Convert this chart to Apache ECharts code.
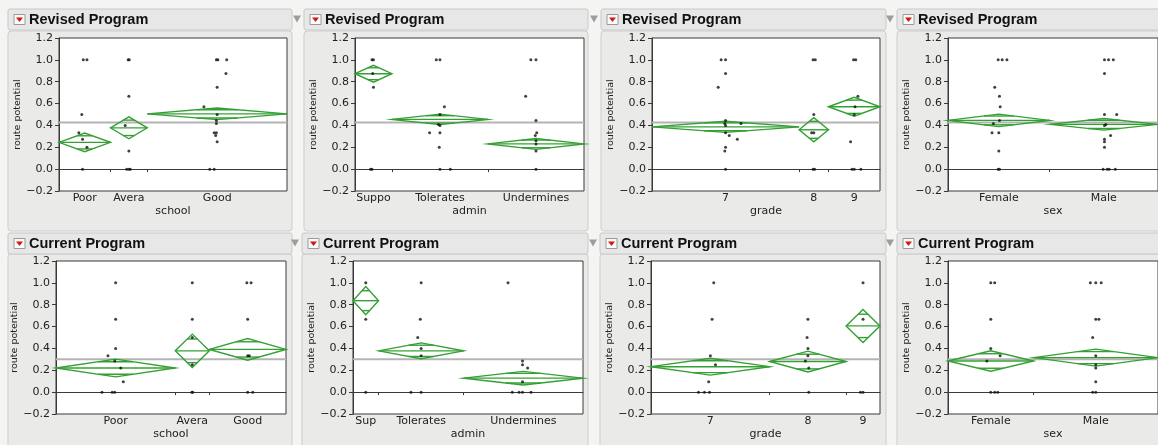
<!DOCTYPE html>
<html>
<head>
<meta charset="utf-8">
<title>route potential - Revised / Current Program</title>
<script src="https://cdn.jsdelivr.net/npm/echarts@6/dist/echarts.min.js"></script>
<style>
  html, body { margin: 0; padding: 0; background: #f4f4f3; }
  #chart { width: 1158px; height: 445px; }
</style>
</head>
<body>
<div id="chart"></div>
<script>
// ---- values ----
// grand means (gray line)
var revGrand = 0.426;
var curGrand = 0.302;

// Revised Program / school
var revSchoolNames = ['Poor', 'Avera', 'Good'];
var revSchoolN = [7, 5, 19];
var revSchoolMean = [0.245, 0.378, 0.506];
var revSchoolCI = [0.085, 0.1, 0.053];
var revSchoolPts = [
  [[-0.2,1],[0.3,1],[-0.4,0.5],[-0.8,0.333],[-0.3,0.273],[0.3,0.2],[-0.3,0]],
  [[-0.1,1],[0.05,1],[0,0.667],[-0.5,0.4],[0,0.167],[-0.3,0],[0,0],[0.2,0]],
  [[-0.1,1],[0.1,1],[1.3,1],[1.2,0.875],[0,0.75],[-1.8,0.571],[0,0.5],[-0.1,0.444],[-0.1,0.417],
   [-0.4,0.333],[-0.1,0.333],[-0.2,0.308],[0,0.25],[-1,0],[-0.4,0]]
];

// Revised Program / admin
var revAdminNames = ['Suppo', 'Tolerates', 'Undermines'];
var revAdminN = [5, 13, 13];
var revAdminMean = [0.873, 0.455, 0.231];
var revAdminCI = [0.077, 0.048, 0.05];
var revAdminPts = [
  [[-0.2,1],[0,1],[-0.1,0.875],[0,0.75],[-0.4,0],[-0.2,0]],
  [[-0.5,1],[0,1],[0.6,0.571],[0,0.5],[-0.2,0.409],[0,0.4],[-1.4,0.333],[0,0.333],[-0.1,0.2],[0,0],[1.4,0]],
  [[-0.7,1],[0,1],[-1.4,0.667],[0,0.444],[0.1,0.333],[-0.1,0.308],[0,0.26],[0,0.23],[0,0.167],[0,0]]
];

// Revised Program / grade
var revGradeNames = ['7', '8', '9'];
var revGradeN = [20, 4, 7];
var revGradeMean = [0.387, 0.36, 0.571];
var revGradeCI = [0.051, 0.11, 0.086];
var revGradePts = [
  [[-0.6,1],[0,1],[0,0.875],[-1,0.75],[0,0.444],[-0.1,0.417],[2.1,0.417],[0,0.4],[0,0.333],
   [0.5,0.308],[1.6,0.273],[0,0.2],[-0.1,0.167],[0,0]],
  [[-0.1,1],[0.2,1],[0,0.5],[-0.3,0.333],[0,0.333],[0.1,0],[-0.1,0]],
  [[-0.1,1],[0.2,1],[0.5,0.667],[0.1,0.571],[0,0.5],[-0.5,0.25],[-0.3,0],[0,0],[0.9,0]]
];

// Revised Program / sex
var revSexNames = ['Female', 'Male'];
var revSexN = [15, 16];
var revSexMean = [0.446, 0.41];
var revSexCI = [0.057, 0.053];
var revSexPts = [
  [[-0.1,1],[0.5,1],[1.2,1],[-0.6,0.75],[0.1,0.667],[0.2,0.571],[0.1,0.444],[-0.8,0.417],
   [-1,0.333],[0,0.333],[0,0.167],[-0.1,0],[0.1,0]],
  [[0.1,1],[0.7,1],[1.4,1],[0.1,0.875],[0.1,0.5],[1.9,0.5],[0.3,0.409],[0.1,0.4],[1,0.308],
   [0.1,0.273],[0.1,0.25],[0.1,0.2],[-0.1,0],[0.5,0],[0.8,0],[1.7,0]]
];

// Current Program / school
var curSchoolNames = ['Poor', 'Avera', 'Good'];
var curSchoolN = [14, 4, 9];
var curSchoolMean = [0.221, 0.378, 0.391];
var curSchoolCI = [0.081, 0.153, 0.099];
var curSchoolPts = [
  [[0,1],[0,0.667],[0,0.4],[-0.9,0.333],[-0.1,0.286],[0.6,0.222],[0.9,0.095],[-1.6,0],[-0.4,0],[-0.1,0]],
  [[0,1],[0,0.667],[0,0.5],[0,0.25],[-0.05,0],[0.05,0]],
  [[-0.1,1],[0.4,1],[0,0.667],[0,0.333],[0.2,0.333],[0,0],[0.6,0]]
];

// Current Program / admin
var curAdminNames = ['Sup', 'Tolerates', 'Undermines'];
var curAdminN = [3, 10, 14];
var curAdminMean = [0.837, 0.378, 0.128];
var curAdminCI = [0.129, 0.073, 0.062];
var curAdminPts = [
  [[0,1],[0,0.667],[0,0]],
  [[0,1],[-0.1,0.667],[-0.4,0.5],[0,0.4],[0,0.333],[-1.2,0],[0,0]],
  [[-1.8,1],[-0.1,0.286],[-0.1,0.25],[0.5,0.222],[-0.1,0.095],[-1.3,0],[-0.5,0],[-0.1,0],[0.9,0]]
];

// Current Program / grade
var curGradeNames = ['7', '8', '9'];
var curGradeN = [14, 9, 4];
var curGradeMean = [0.233, 0.28, 0.606];
var curGradeCI = [0.077, 0.095, 0.151];
var curGradePts = [
  [[0.4,1],[0.2,0.667],[0,0.333],[0.6,0.25],[-0.2,0.095],[-1.4,0],[-0.7,0],[-0.1,0]],
  [[0,0.667],[-0.1,0.5],[0,0.4],[0,0.333],[-0.3,0.286],[0.1,0.222],[0.1,0]],
  [[0,1],[0,0.667],[-0.3,0],[0,0]]
];

// Current Program / sex
var curSexNames = ['Female', 'Male'];
var curSexN = [11, 16];
var curSexMean = [0.285, 0.316];
var curSexCI = [0.094, 0.078];
var curSexPts = [
  [[0,1],[0.5,1],[0,0.667],[0,0.4],[-0.5,0.286],[1.2,0.333],[0,0],[0.5,0],[0.9,0]],
  [[-0.7,1],[0,1],[0.7,1],[0,0.667],[0.4,0.667],[-0.4,0.5],[0,0.333],[0,0.25],[0,0.222],[0,0.095],[-0.4,0],[0,0]]
];

// ---- panels ----
var panels = [
  { title: 'Revised Program', xname: 'school', names: revSchoolNames, n: revSchoolN, mean: revSchoolMean, ci: revSchoolCI, pts: revSchoolPts, grand: revGrand },
  { title: 'Revised Program', xname: 'admin',  names: revAdminNames,  n: revAdminN,  mean: revAdminMean,  ci: revAdminCI,  pts: revAdminPts,  grand: revGrand },
  { title: 'Revised Program', xname: 'grade',  names: revGradeNames,  n: revGradeN,  mean: revGradeMean,  ci: revGradeCI,  pts: revGradePts,  grand: revGrand },
  { title: 'Revised Program', xname: 'sex',    names: revSexNames,    n: revSexN,    mean: revSexMean,    ci: revSexCI,    pts: revSexPts,    grand: revGrand },
  { title: 'Current Program', xname: 'school', names: curSchoolNames, n: curSchoolN, mean: curSchoolMean, ci: curSchoolCI, pts: curSchoolPts, grand: curGrand },
  { title: 'Current Program', xname: 'admin',  names: curAdminNames,  n: curAdminN,  mean: curAdminMean,  ci: curAdminCI,  pts: curAdminPts,  grand: curGrand },
  { title: 'Current Program', xname: 'grade',  names: curGradeNames,  n: curGradeN,  mean: curGradeMean,  ci: curGradeCI,  pts: curGradePts,  grand: curGrand },
  { title: 'Current Program', xname: 'sex',    names: curSexNames,    n: curSexN,    mean: curSexMean,    ci: curSexCI,    pts: curSexPts,    grand: curGrand }
];

// layout (pixels)
var plotLeft  = [59, 355, 652, 948, 56, 353, 651, 948];
var plotWidth = [228, 229, 228, 212, 230, 230, 229, 212];
var rowTop = [38, 261];
var plotHeight = 153;
var boxX = [[8, 304, 601, 897], [8, 302, 600, 897]];
var boxW = [[284, 284, 285, 270], [284, 286, 286, 270]];
var barY = [9, 233];
var boxY = [31, 254];

var FONT = 'DejaVu Sans';
var GREEN = '#34a034';

function renderDiamond(params, api) {
  var x0 = api.value(0), x1 = api.value(1), m = api.value(2), h = api.value(3);
  var xc = (x0 + x1) / 2;
  var L = api.coord([x0, m]), R = api.coord([x1, m]);
  var T = api.coord([xc, m + h]), B = api.coord([xc, m - h]);
  var k = Math.SQRT1_2;
  var hw = (R[0] - L[0]) / 2 * (1 - k);
  var oT = api.coord([xc, m + h * k]), oB = api.coord([xc, m - h * k]);
  var st = { stroke: GREEN, lineWidth: 1.4, fill: 'none' };
  return {
    type: 'group',
    children: [
      { type: 'polygon', shape: { points: [L, T, R, B] }, style: st },
      { type: 'line', shape: { x1: L[0], y1: L[1], x2: R[0], y2: R[1] }, style: st },
      { type: 'line', shape: { x1: oT[0] - hw, y1: oT[1], x2: oT[0] + hw, y2: oT[1] }, style: st },
      { type: 'line', shape: { x1: oB[0] - hw, y1: oB[1], x2: oB[0] + hw, y2: oB[1] }, style: st }
    ]
  };
}

var grids = [], xAxes = [], yAxes = [], series = [], graphics = [];

panels.forEach(function (p, i) {
  var row = i < 4 ? 0 : 1, col = i % 4;
  var total = p.n.reduce(function (a, b) { return a + b; }, 0);
  var starts = [], centers = [], bounds = [];
  var acc = 0;
  p.n.forEach(function (v, j) {
    starts.push(acc);
    centers.push(acc + v / 2);
    acc += v;
    if (j < p.n.length - 1) bounds.push(acc);
  });

  grids.push({
    left: plotLeft[i], top: rowTop[row], width: plotWidth[i], height: plotHeight,
    show: true, backgroundColor: '#ffffff', borderColor: '#3a3a3a', borderWidth: 1
  });

  xAxes.push({
    gridIndex: i, type: 'value', min: 0, max: total,
    name: p.xname, nameLocation: 'middle', nameGap: 15,
    nameTextStyle: { fontFamily: FONT, fontSize: 11, color: '#222' },
    axisLine: { show: true, lineStyle: { color: '#3a3a3a', width: 1 } },
    axisTick: { show: true, customValues: bounds, length: 3, lineStyle: { color: '#3a3a3a' } },
    axisLabel: {
      customValues: centers, margin: 2, fontFamily: FONT, fontSize: 11, color: '#222',
      formatter: function (v) {
        for (var j = 0; j < centers.length; j++) {
          if (Math.abs(centers[j] - v) < 1e-6) return p.names[j];
        }
        return '';
      }
    },
    splitLine: { show: false }
  });

  yAxes.push({
    gridIndex: i, type: 'value', min: -0.2, max: 1.2, interval: 0.2,
    name: 'route potential', nameLocation: 'middle', nameGap: 34,
    nameTextStyle: { fontFamily: FONT, fontSize: 9.5, color: '#222' },
    axisLine: { show: true, lineStyle: { color: '#3a3a3a' } },
    axisTick: { show: true, length: 4, lineStyle: { color: '#3a3a3a' } },
    axisLabel: {
      fontFamily: FONT, fontSize: 11, color: '#222', margin: 6,
      formatter: function (v) {
        var s = Math.abs(v).toFixed(1);
        return v < -1e-9 ? '\u2212' + s : s;
      }
    },
    splitLine: { show: false }
  });

  // grand mean
  series.push({
    type: 'line', xAxisIndex: i, yAxisIndex: i, z: 1, silent: true,
    data: [[0, p.grand], [total, p.grand]], symbol: 'none',
    lineStyle: { color: '#b4b4b4', width: 2 }
  });

  // means diamonds
  series.push({
    type: 'custom', xAxisIndex: i, yAxisIndex: i, z: 3, silent: true,
    renderItem: renderDiamond,
    encode: { x: [0, 1], y: 2 },
    data: p.mean.map(function (m, j) { return [starts[j], starts[j] + p.n[j], m, p.ci[j]]; })
  });

  // individual points
  var dots = [];
  p.pts.forEach(function (list, j) {
    list.forEach(function (pt) { dots.push([centers[j] + pt[0], pt[1]]); });
  });
  series.push({
    type: 'scatter', xAxisIndex: i, yAxisIndex: i, z: 4, silent: true,
    symbolSize: 3, itemStyle: { color: '#111' }, data: dots
  });

  // panel frame + title bar
  var bx = boxX[row][col], bw = boxW[row][col];
  graphics.push({
    type: 'rect', z: -10, shape: { x: bx, y: boxY[row], width: bw, height: 200, r: 3 },
    style: { fill: '#eaeae8', stroke: '#cdcdcb', lineWidth: 1 }
  });
  graphics.push({
    type: 'rect', z: -10, shape: { x: bx, y: barY[row], width: bw, height: 21, r: 2 },
    style: { fill: '#e7e7e7', stroke: '#c9c9c9', lineWidth: 1 }
  });
  var by = barY[row] + 10.5;
  graphics.push({
    type: 'rect', z: 5, shape: { x: bx + 6, y: by - 5, width: 11, height: 10 },
    style: { fill: '#fafafa', stroke: '#9a9a9a', lineWidth: 1 }
  });
  graphics.push({
    type: 'polygon', z: 6, shape: { points: [[bx + 8, by - 2], [bx + 15, by - 2], [bx + 11.5, by + 2.5]] },
    style: { fill: '#d01818' }
  });
  if (col > 0) {
    graphics.push({
      type: 'polygon', z: 6, shape: { points: [[bx - 11, by - 4], [bx - 3, by - 4], [bx - 7, by + 3]] },
      style: { fill: '#9d9d9d' }
    });
  }
  graphics.push({
    type: 'text', z: 6, x: bx + 21, y: by,
    style: { text: p.title, fontFamily: 'Liberation Sans', fontWeight: 'bold', fontSize: 14.5, fill: '#111', verticalAlign: 'middle' }
  });
});

var chart = echarts.init(document.getElementById('chart'));
chart.setOption({
  backgroundColor: '#f4f4f3',
  animation: false,
  grid: grids,
  xAxis: xAxes,
  yAxis: yAxes,
  series: series,
  graphic: { elements: graphics }
});
window.addEventListener('resize', function () { chart.resize(); });
</script>
</body>
</html>
